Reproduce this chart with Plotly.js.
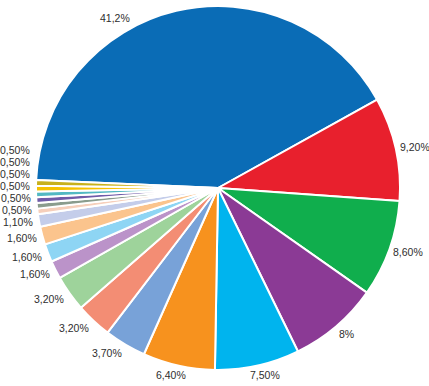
<!DOCTYPE html>
<html>
<head>
<meta charset="utf-8">
<script src="https://cdn.plot.ly/plotly-3.0.1.min.js"></script>
<style>html,body{margin:0;padding:0;background:#fff;}#chart{width:429px;height:386px;}</style>
</head>
<body>
<div id="chart"></div>
<script>
const values = [41.2, 9.2, 8.6, 8, 7.5, 6.4, 3.7, 3.2, 3.2, 1.6, 1.6, 1.6, 1.1, 0.5, 0.5, 0.5, 0.5, 0.5, 0.5];
const labelTexts = ["41,2%", "9,20%", "8,60%", "8%", "7,50%", "6,40%", "3,70%", "3,20%", "3,20%", "1,60%", "1,60%", "1,60%", "1,10%", "0,50%", "0,50%", "0,50%", "0,50%", "0,50%", "0,50%"];
const categories = values.map((v, i) => "S" + (i + 1));
const colors = ["#0a6cb6", "#e8202d", "#10ae4d", "#8b3a95", "#00b4ee", "#f7921e", "#78a2d8", "#f38d74", "#9ed39b", "#bb93c9", "#8ed5f4", "#fbc48d", "#c4cdea", "#f6cfbb", "#8a9c8d", "#6f5ba8", "#52b9c3", "#f5c100", "#c8b11c"];

const W = 429, H = 386;
const M = {l: 36, r: 29, t: 6, b: 16};
const pw = W - M.l - M.r, ph = H - M.t - M.b;
const cx = M.l + pw / 2, cy = M.t + ph / 2;
const ROT = -87.5;               // plotly rotation (deg clockwise from 12 o'clock)
const startMath = 90 - ROT;      // math angle of first slice start
const RX_LEFT = 187, RX_RIGHT = 185, RY = 187, GAP = 12, TOPLIMIT = 18;

const total = values.reduce((a, b) => a + b, 0);
let cum = 0;
const labs = values.map((v, i) => {
  const mid = cum + v / 2; cum += v;
  let th = startMath - mid / total * 360;
  const pos = (t) => {
    const r = t * Math.PI / 180, c = Math.cos(r), s = Math.sin(r);
    const rx = c < 0 ? RX_LEFT : RX_RIGHT;
    return {c, s, px: cx + rx * c, py: cy - RY * s, yc: cy - RY * s - 5 * s};
  };
  let p = pos(th);
  // keep label inside the top of the chart: slide along the ring
  let guard = 0;
  while (p.yc < TOPLIMIT && guard < 400) {
    th += (Math.cos(th * Math.PI / 180) < 0 ? 0.25 : -0.25);
    p = pos(th); guard++;
  }
  return Object.assign({i, th}, p);
});

// resolve overlaps on the left side: walk upward (clockwise order) and push up
let prevY = null;
labs.forEach(L => {
  if (L.c < -0.25) {
    if (prevY !== null && L.yc > prevY - GAP) L.yc = prevY - GAP;
    prevY = L.yc;
  } else {
    prevY = null;
  }
});

const annotations = labs.map(L => {
  let xanchor = "center", x = L.px + 30 * L.c;
  if (L.c > 0.25) { xanchor = "left"; x = L.px; }
  else if (L.c < -0.25) { xanchor = "right"; x = L.px; }
  return {
    xref: "paper", yref: "paper",
    x: (x - M.l) / pw, y: 1 - (L.yc - M.t) / ph,
    xanchor, yanchor: "middle", borderpad: 0,
    text: labelTexts[L.i], showarrow: false,
    font: {family: "Liberation Sans, Arial, sans-serif", size: 10.5, color: "#2e2e2e"}
  };
});

const trace = {
  type: "pie",
  labels: categories,
  values: values,
  textinfo: "none",
  sort: false,
  direction: "clockwise",
  rotation: ROT,
  hoverinfo: "none",
  marker: {colors: colors, line: {color: "#ffffff", width: 2}},
  automargin: false,
  showlegend: false
};

Plotly.newPlot("chart", [trace], {
  width: W, height: H,
  margin: M,
  paper_bgcolor: "#ffffff",
  showlegend: false,
  annotations: annotations
}, {staticPlot: true});
</script>
</body>
</html>
